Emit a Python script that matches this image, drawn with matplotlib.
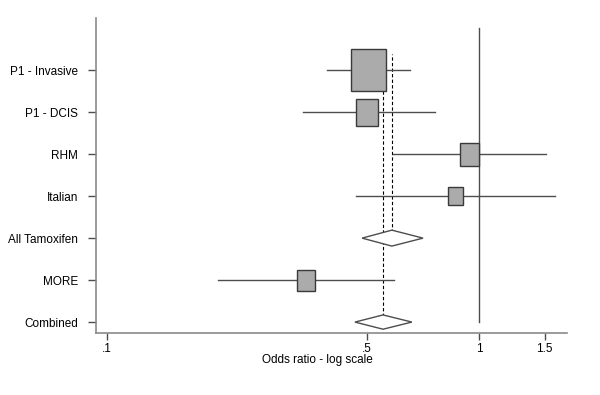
import numpy as np
import matplotlib
matplotlib.use("Agg")
import matplotlib.pyplot as plt
from matplotlib.patches import Rectangle, Polygon

plt.rcParams['font.family'] = ['Liberation Sans', 'DejaVu Sans']

# studies, top to bottom
labels = ['P1 - Invasive', 'P1 - DCIS', 'RHM', 'Italian', 'All Tamoxifen', 'MORE', 'Combined']
estimate = [0.505, 0.50, 0.943, 0.865, 0.583, 0.343, 0.552]
lower = [0.39, 0.336, 0.587, 0.467, 0.485, 0.199, 0.464]
upper = [0.653, 0.762, 1.51, 1.60, 0.707, 0.591, 0.660]
box_size = [1.0, 0.64, 0.55, 0.43, 0, 0.5, 0]   # relative weight, 0 = pooled (diamond)
is_pooled = [False, False, False, False, True, False, True]

xticks = [0.1, 0.5, 1, 1.5]
xticklabels = ['.1', '.5', '1', '1.5']

line_col = '#4d4d4d'
axis_col = '#8a8a8a'
box_col = '#ababab'

fig = plt.figure(figsize=(6.0, 3.95), dpi=100)
ax = fig.add_axes([0.16, 0.157, 0.785, 0.797])

n = len(labels)
ypos = np.arange(n)[::-1]

# reference line at OR = 1 and dashed lines at pooled estimates
ax.plot([1, 1], [0, 7.0], color=line_col, lw=1.0, zorder=1)
ax.plot([estimate[6]] * 2, [0, 6.5], color='black', lw=0.8, ls=(0, (3, 2)), zorder=1)
ax.plot([estimate[4]] * 2, [2, 6.38], color='black', lw=0.8, ls=(0, (3, 2)), zorder=1)

for i in range(n):
    y = ypos[i]
    if is_pooled[i]:
        h = 0.19 if i == 4 else 0.17
        pts = [(lower[i], y), (estimate[i], y + h), (upper[i], y), (estimate[i], y - h)]
        ax.add_patch(Polygon(pts, closed=True, facecolor='white', edgecolor=line_col, lw=1.0, zorder=3))
    else:
        ax.plot([lower[i], upper[i]], [y, y], color=line_col, lw=1.0, zorder=2)
        hh = box_size[i] / 2
        hw = box_size[i] * 0.094 / 2   # half width in decades
        x0 = estimate[i] * 10 ** (-hw)
        x1 = estimate[i] * 10 ** hw
        ax.add_patch(Rectangle((x0, y - hh), x1 - x0, 2 * hh, facecolor=box_col,
                               edgecolor='#3a3a3a', lw=1.0, zorder=3))

ax.set_xscale('log')
ax.set_xlim(0.0934, 1.724)
ax.set_ylim(-0.26, 7.24)
ax.set_xticks(xticks)
ax.set_xticklabels(xticklabels)
ax.minorticks_off()
ax.set_yticks(ypos)
ax.set_yticklabels(labels)

for s in ['top', 'right']:
    ax.spines[s].set_visible(False)
for s in ['left', 'bottom']:
    ax.spines[s].set_color(axis_col)
    ax.spines[s].set_linewidth(1.2)

ax.tick_params(axis='y', length=6, width=1.0, color=line_col, pad=7, labelsize=8.5, labelcolor='black')
ax.tick_params(axis='x', length=5, width=1.0, color=line_col, pad=2, labelsize=8.5, labelcolor='black')

ax.set_xlabel('Odds ratio - log scale', fontsize=8.5)
ax.xaxis.set_label_coords(0.469, -0.068)

fig.savefig('out.png', dpi=100)
